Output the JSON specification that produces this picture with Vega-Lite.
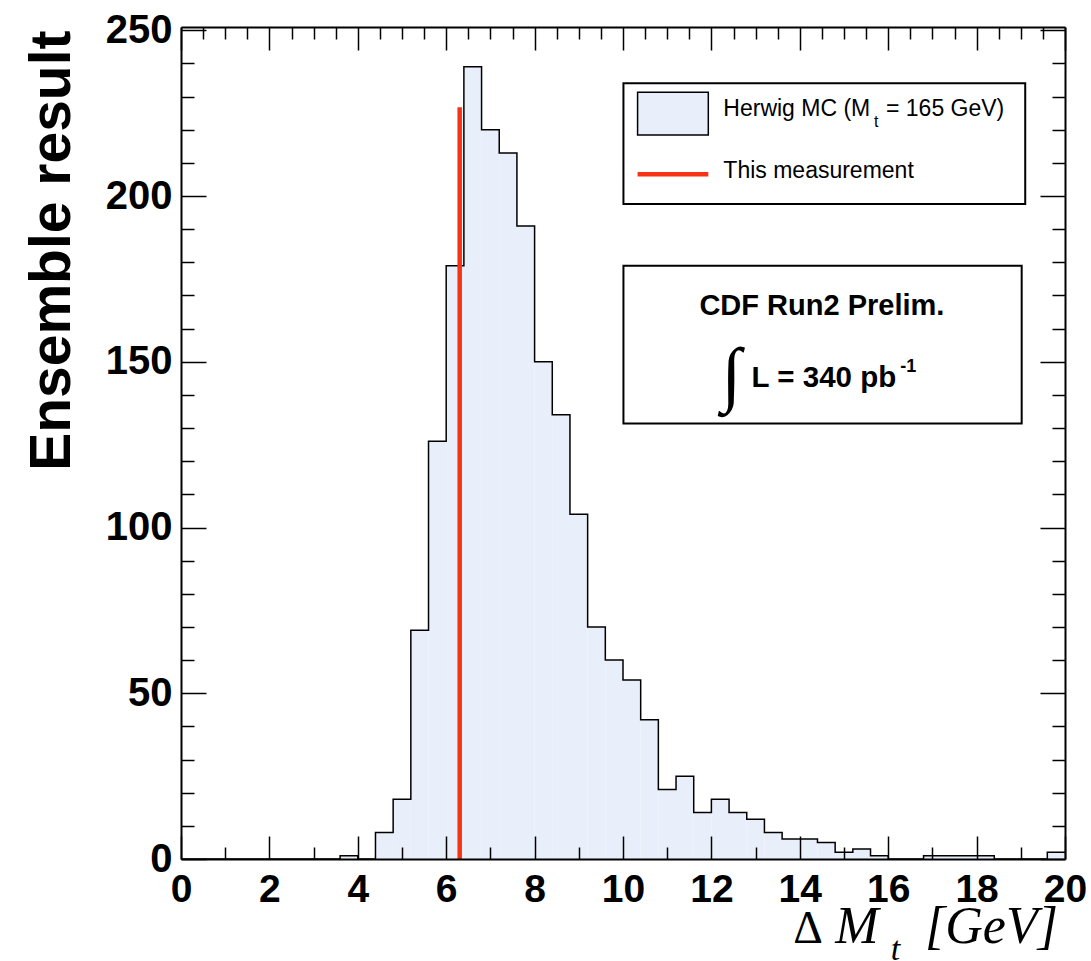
{
  "$schema": "https://vega.github.io/schema/vega-lite/v6.json",
  "width": 884,
  "height": 832,
  "autosize": {"type": "none"},
  "padding": {"left": 181, "top": 27, "right": 26, "bottom": 102},
  "background": "white",
  "config": {"view": {"stroke": null}, "font": "Liberation Sans"},
  "data": {
    "values": [
      {"x0": 0.0, "x1": 0.4, "n": 0}, {"x0": 0.4, "x1": 0.8, "n": 0}, {"x0": 0.8, "x1": 1.2, "n": 0},
      {"x0": 1.2, "x1": 1.6, "n": 0}, {"x0": 1.6, "x1": 2.0, "n": 0}, {"x0": 2.0, "x1": 2.4, "n": 0},
      {"x0": 2.4, "x1": 2.8, "n": 0}, {"x0": 2.8, "x1": 3.2, "n": 0}, {"x0": 3.2, "x1": 3.6, "n": 0},
      {"x0": 3.6, "x1": 4.0, "n": 1}, {"x0": 4.0, "x1": 4.4, "n": 0}, {"x0": 4.4, "x1": 4.8, "n": 8},
      {"x0": 4.8, "x1": 5.2, "n": 18}, {"x0": 5.2, "x1": 5.6, "n": 69}, {"x0": 5.6, "x1": 6.0, "n": 126},
      {"x0": 6.0, "x1": 6.4, "n": 179}, {"x0": 6.4, "x1": 6.8, "n": 239}, {"x0": 6.8, "x1": 7.2, "n": 220},
      {"x0": 7.2, "x1": 7.6, "n": 213}, {"x0": 7.6, "x1": 8.0, "n": 191}, {"x0": 8.0, "x1": 8.4, "n": 150},
      {"x0": 8.4, "x1": 8.8, "n": 134}, {"x0": 8.8, "x1": 9.2, "n": 104}, {"x0": 9.2, "x1": 9.6, "n": 70},
      {"x0": 9.6, "x1": 10.0, "n": 60}, {"x0": 10.0, "x1": 10.4, "n": 54}, {"x0": 10.4, "x1": 10.8, "n": 42},
      {"x0": 10.8, "x1": 11.2, "n": 21}, {"x0": 11.2, "x1": 11.6, "n": 25}, {"x0": 11.6, "x1": 12.0, "n": 14},
      {"x0": 12.0, "x1": 12.4, "n": 18}, {"x0": 12.4, "x1": 12.8, "n": 14}, {"x0": 12.8, "x1": 13.2, "n": 12},
      {"x0": 13.2, "x1": 13.6, "n": 8}, {"x0": 13.6, "x1": 14.0, "n": 6}, {"x0": 14.0, "x1": 14.4, "n": 6},
      {"x0": 14.4, "x1": 14.8, "n": 5}, {"x0": 14.8, "x1": 15.2, "n": 2}, {"x0": 15.2, "x1": 15.6, "n": 3},
      {"x0": 15.6, "x1": 16.0, "n": 1}, {"x0": 16.0, "x1": 16.4, "n": 0}, {"x0": 16.4, "x1": 16.8, "n": 0},
      {"x0": 16.8, "x1": 17.2, "n": 1}, {"x0": 17.2, "x1": 17.6, "n": 1}, {"x0": 17.6, "x1": 18.0, "n": 1},
      {"x0": 18.0, "x1": 18.4, "n": 1}, {"x0": 18.4, "x1": 18.8, "n": 0}, {"x0": 18.8, "x1": 19.2, "n": 0},
      {"x0": 19.2, "x1": 19.6, "n": 0}, {"x0": 19.6, "x1": 20.0, "n": 2}
    ]
  },
  "resolve": {"axis": {"x": "independent", "y": "independent"}},
  "layer": [
    {
      "mark": {"type": "rect", "fill": "#e8eefa", "strokeWidth": 0},
      "encoding": {
        "x": {
          "field": "x0", "type": "quantitative",
          "scale": {"domain": [0, 20], "nice": false, "zero": false},
          "axis": {
            "orient": "bottom", "zindex": 1, "grid": false, "title": null,
            "values": [0,0.5,1,1.5,2,2.5,3,3.5,4,4.5,5,5.5,6,6.5,7,7.5,8,8.5,9,9.5,10,10.5,11,11.5,12,12.5,13,13.5,14,14.5,15,15.5,16,16.5,17,17.5,18,18.5,19,19.5,20],
            "format": "d",
            "labelExpr": "datum.value % 2 === 0 ? datum.label : ''",
            "labelFont": "Liberation Sans", "labelFontWeight": "bold", "labelFontSize": 39, "labelColor": "black",
            "labelFlush": false, "labelOverlap": false, "labelPadding": 34, "labelBaseline": "top",
            "tickSize": {"condition": {"test": "datum.value % 2 === 0", "value": -23}, "value": -12},
            "tickColor": "black", "tickWidth": 1.5,
            "domainColor": "black", "domainWidth": 2
          }
        },
        "x2": {"field": "x1"},
        "y": {
          "field": "n", "type": "quantitative",
          "scale": {"domain": [0, 251], "nice": false},
          "axis": {
            "orient": "left", "zindex": 1, "grid": false,
            "values": [0,10,20,30,40,50,60,70,80,90,100,110,120,130,140,150,160,170,180,190,200,210,220,230,240,250],
            "format": "d",
            "labelExpr": "datum.value % 50 === 0 ? datum.label : ''",
            "labelFont": "Liberation Sans", "labelFontWeight": "bold", "labelFontSize": 40, "labelColor": "black",
            "labelFlush": false, "labelOverlap": false, "labelPadding": 34,
            "tickSize": {"condition": {"test": "datum.value % 50 === 0", "value": -25}, "value": -13},
            "tickColor": "black", "tickWidth": 1.5,
            "domainColor": "black", "domainWidth": 2,
            "title": "Ensemble result", "titleFont": "Liberation Sans", "titleFontSize": 57, "titleFontWeight": "bold",
            "titleColor": "black", "titleAngle": -90, "titleAlign": "right", "titleBaseline": "alphabetic",
            "titleX": -112, "titleY": 3
          }
        },
        "y2": {"datum": 0}
      }
    },
    {
      "transform": [{"fold": ["x0", "x1"], "as": ["edge", "xv"]}],
      "mark": {"type": "line", "stroke": "black", "strokeWidth": 1.5},
      "encoding": {
        "x": {
          "field": "xv", "type": "quantitative",
          "axis": {
            "orient": "top", "zindex": 1, "grid": false, "title": null, "labels": false,
            "values": [0,0.5,1,1.5,2,2.5,3,3.5,4,4.5,5,5.5,6,6.5,7,7.5,8,8.5,9,9.5,10,10.5,11,11.5,12,12.5,13,13.5,14,14.5,15,15.5,16,16.5,17,17.5,18,18.5,19,19.5,20],
            "tickSize": {"condition": {"test": "datum.value % 2 === 0", "value": -23}, "value": -12},
            "tickColor": "black", "tickWidth": 1.5,
            "domainColor": "black", "domainWidth": 2
          }
        },
        "y": {
          "field": "n", "type": "quantitative",
          "axis": {
            "orient": "right", "zindex": 1, "grid": false, "title": null, "labels": false,
            "values": [0,10,20,30,40,50,60,70,80,90,100,110,120,130,140,150,160,170,180,190,200,210,220,230,240,250],
            "tickSize": {"condition": {"test": "datum.value % 50 === 0", "value": -25}, "value": -13},
            "tickColor": "black", "tickWidth": 1.5,
            "domainColor": "black", "domainWidth": 2
          }
        },
        "order": [
          {"field": "xv", "type": "quantitative"},
          {"field": "edge", "type": "nominal", "sort": "descending"}
        ]
      }
    },
    {
      "data": {"values": [{}]},
      "mark": {"type": "rule", "color": "#f83214", "strokeWidth": 4.5},
      "encoding": {
        "x": {"datum": 6.305, "type": "quantitative", "axis": null},
        "y": {"datum": 0, "type": "quantitative", "axis": null},
        "y2": {"datum": 226.8}
      }
    },
    {
      "data": {"values": [{}]},
      "mark": {"type": "rect", "fill": "white", "stroke": "black", "strokeWidth": 2},
      "encoding": {
        "x": {"datum": 10.01, "type": "quantitative", "axis": null},
        "x2": {"datum": 19.1},
        "y": {"datum": 234.0, "type": "quantitative", "axis": null},
        "y2": {"datum": 197.6}
      }
    },
    {
      "data": {"values": [{}]},
      "mark": {"type": "rect", "fill": "#e8eefa", "stroke": "black", "strokeWidth": 1.5},
      "encoding": {
        "x": {"datum": 10.33, "type": "quantitative", "axis": null},
        "x2": {"datum": 11.93},
        "y": {"datum": 231.3, "type": "quantitative", "axis": null},
        "y2": {"datum": 218.4}
      }
    },
    {
      "data": {"values": [{}]},
      "mark": {"type": "rule", "color": "#f83214", "strokeWidth": 4.5},
      "encoding": {
        "x": {"datum": 10.33, "type": "quantitative", "axis": null},
        "x2": {"datum": 11.93},
        "y": {"datum": 206.6, "type": "quantitative", "axis": null}
      }
    },
    {
      "data": {"values": [{}]},
      "mark": {"type": "text", "text": "Herwig MC (M", "align": "left", "baseline": "alphabetic", "font": "Liberation Sans", "fontSize": 23, "color": "black"},
      "encoding": {
        "x": {"datum": 12.27, "type": "quantitative", "axis": null},
        "y": {"datum": 224.1, "type": "quantitative", "axis": null}
      }
    },
    {
      "data": {"values": [{}]},
      "mark": {"type": "text", "text": "t", "align": "left", "baseline": "alphabetic", "font": "Liberation Sans", "fontSize": 16, "color": "black"},
      "encoding": {
        "x": {"datum": 15.68, "type": "quantitative", "axis": null},
        "y": {"datum": 220.7, "type": "quantitative", "axis": null}
      }
    },
    {
      "data": {"values": [{}]},
      "mark": {"type": "text", "text": "= 165 GeV)", "align": "left", "baseline": "alphabetic", "font": "Liberation Sans", "fontSize": 23, "color": "black"},
      "encoding": {
        "x": {"datum": 15.95, "type": "quantitative", "axis": null},
        "y": {"datum": 224.1, "type": "quantitative", "axis": null}
      }
    },
    {
      "data": {"values": [{}]},
      "mark": {"type": "text", "text": "This measurement", "align": "left", "baseline": "alphabetic", "font": "Liberation Sans", "fontSize": 23, "color": "black"},
      "encoding": {
        "x": {"datum": 12.27, "type": "quantitative", "axis": null},
        "y": {"datum": 205.3, "type": "quantitative", "axis": null}
      }
    },
    {
      "data": {"values": [{}]},
      "mark": {"type": "rect", "fill": "white", "stroke": "black", "strokeWidth": 2},
      "encoding": {
        "x": {"datum": 10.01, "type": "quantitative", "axis": null},
        "x2": {"datum": 19.02},
        "y": {"datum": 179.0, "type": "quantitative", "axis": null},
        "y2": {"datum": 131.4}
      }
    },
    {
      "data": {"values": [{}]},
      "mark": {"type": "text", "text": "CDF Run2 Prelim.", "align": "center", "baseline": "alphabetic", "font": "Liberation Sans", "fontWeight": "bold", "fontSize": 29, "color": "black"},
      "encoding": {
        "x": {"datum": 14.5, "type": "quantitative", "axis": null},
        "y": {"datum": 164.1, "type": "quantitative", "axis": null}
      }
    },
    {
      "data": {"values": [{}]},
      "mark": {"type": "text", "text": "∫", "align": "center", "baseline": "middle", "font": "Liberation Serif", "fontSize": 72, "color": "black"},
      "encoding": {
        "x": {"datum": 12.45, "type": "quantitative", "axis": null},
        "y": {"datum": 145.7, "type": "quantitative", "axis": null}
      }
    },
    {
      "data": {"values": [{}]},
      "mark": {"type": "text", "text": "L = 340 pb", "align": "left", "baseline": "alphabetic", "font": "Liberation Sans", "fontWeight": "bold", "fontSize": 29.5, "color": "black"},
      "encoding": {
        "x": {"datum": 12.91, "type": "quantitative", "axis": null},
        "y": {"datum": 142.5, "type": "quantitative", "axis": null}
      }
    },
    {
      "data": {"values": [{}]},
      "mark": {"type": "text", "text": "-1", "align": "left", "baseline": "alphabetic", "font": "Liberation Sans", "fontWeight": "bold", "fontSize": 18, "color": "black"},
      "encoding": {
        "x": {"datum": 16.27, "type": "quantitative", "axis": null},
        "y": {"datum": 146.9, "type": "quantitative", "axis": null}
      }
    },
    {
      "data": {"values": [{}]},
      "mark": {"type": "text", "text": "Δ", "align": "left", "baseline": "alphabetic", "font": "Liberation Serif", "fontSize": 46, "color": "black"},
      "encoding": {
        "x": {"datum": 13.85, "type": "quantitative", "axis": null},
        "y": {"datum": -25.3, "type": "quantitative", "axis": null}
      }
    },
    {
      "data": {"values": [{}]},
      "mark": {"type": "text", "text": "M", "align": "left", "baseline": "alphabetic", "font": "Liberation Serif", "fontStyle": "italic", "fontSize": 52, "color": "black"},
      "encoding": {
        "x": {"datum": 14.8, "type": "quantitative", "axis": null},
        "y": {"datum": -25.3, "type": "quantitative", "axis": null}
      }
    },
    {
      "data": {"values": [{}]},
      "mark": {"type": "text", "text": "t", "align": "left", "baseline": "alphabetic", "font": "Liberation Serif", "fontStyle": "italic", "fontSize": 34, "color": "black"},
      "encoding": {
        "x": {"datum": 16.06, "type": "quantitative", "axis": null},
        "y": {"datum": -30.5, "type": "quantitative", "axis": null}
      }
    },
    {
      "data": {"values": [{}]},
      "mark": {"type": "text", "text": "[GeV]", "align": "right", "baseline": "alphabetic", "font": "Liberation Serif", "fontStyle": "italic", "fontSize": 52, "color": "black"},
      "encoding": {
        "x": {"datum": 19.84, "type": "quantitative", "axis": null},
        "y": {"datum": -25.3, "type": "quantitative", "axis": null}
      }
    }
  ]
}
